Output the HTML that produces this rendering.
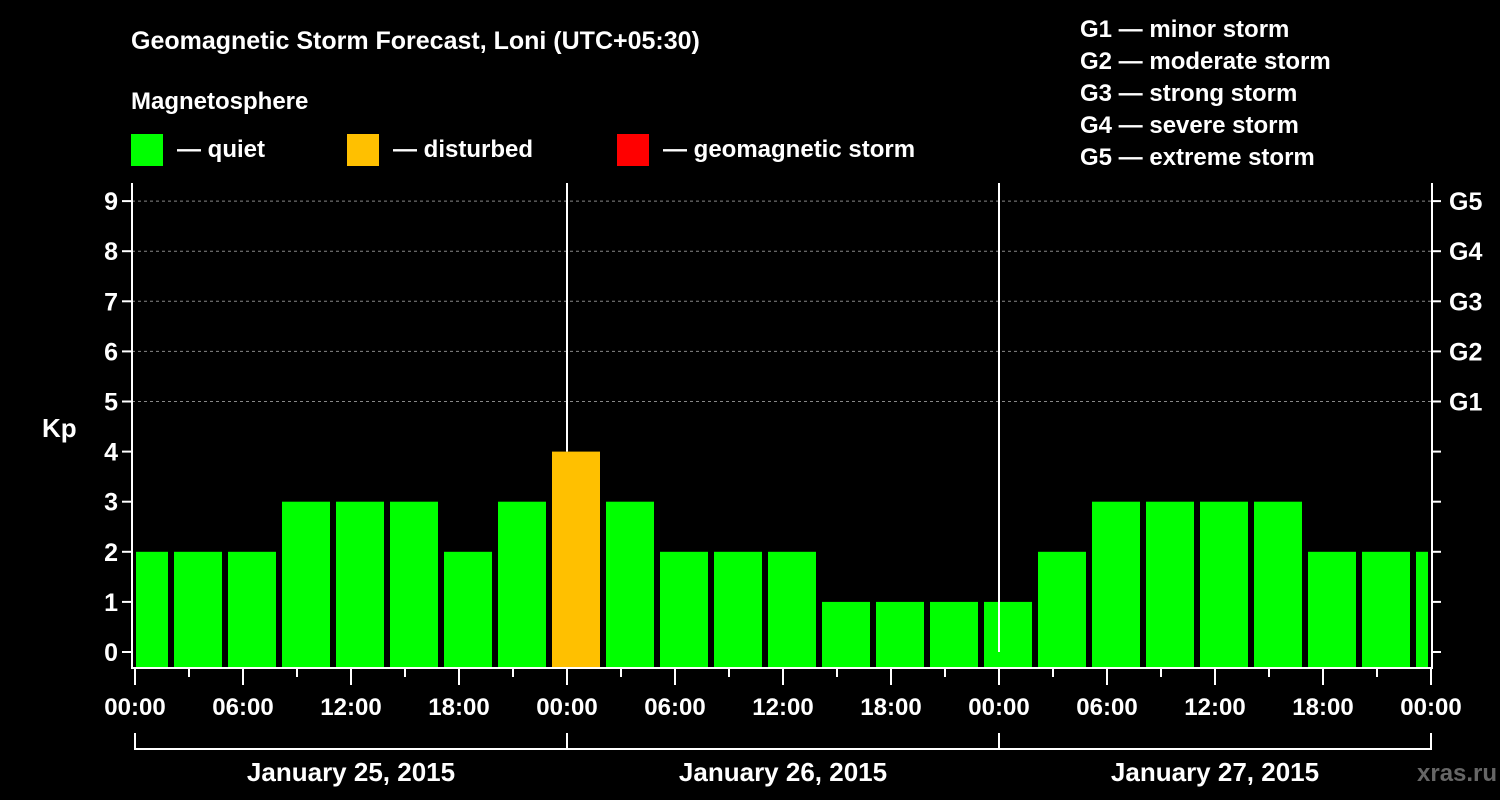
<!DOCTYPE html>
<html><head><meta charset="utf-8"><style>
body{margin:0;background:#000;}
svg{display:block;font-family:"Liberation Sans",Arial,sans-serif;font-weight:bold;}
</style></head><body>
<svg id="chart" width="1500" height="800" viewBox="0 0 1500 800">
<rect width="1500" height="800" fill="#000"/>
<text x="131" y="49" fill="#fff" font-size="25">Geomagnetic Storm Forecast, Loni (UTC+05:30)</text>
<text x="131" y="109" fill="#fff" font-size="24">Magnetosphere</text>
<g><rect x="131" y="134" width="32" height="32" fill="#00ff00"/><text x="177" y="157" fill="#fff" font-size="24">— quiet</text></g>
<g><rect x="347" y="134" width="32" height="32" fill="#ffc000"/><text x="393" y="157" fill="#fff" font-size="24">— disturbed</text></g>
<g><rect x="617" y="134" width="32" height="32" fill="#ff0000"/><text x="663" y="157" fill="#fff" font-size="24">— geomagnetic storm</text></g>
<g fill="#fff" font-size="24">
<text x="1080" y="37">G1 — minor storm</text>
<text x="1080" y="69">G2 — moderate storm</text>
<text x="1080" y="101">G3 — strong storm</text>
<text x="1080" y="133">G4 — severe storm</text>
<text x="1080" y="165">G5 — extreme storm</text>
</g>
<text x="42" y="437" fill="#fff" font-size="26">Kp</text>
<text x="1417" y="781" fill="#666" font-size="24">xras.ru</text>
<g id="grid"></g><g id="bars"></g><g id="axes"></g>
</svg>
<script>
const kpValues=[2,2,2,3,3,3,2,3,4,3,2,2,2,1,1,1,1,2,3,3,3,3,2,2,2];
const kpTicks=[0,1,2,3,4,5,6,7,8,9];
const gLabels=["G1","G2","G3","G4","G5"];
const timeLabels=["00:00","06:00","12:00","18:00","00:00","06:00","12:00","18:00","00:00","06:00","12:00","18:00","00:00"];
const dayLabels=["January 25, 2015","January 26, 2015","January 27, 2015"];
const NS="http://www.w3.org/2000/svg";
const L=132,R=1432,T=183,B=668,X0=135,PXH=18;
const y=k=>652-k*50.1;
const xh=h=>X0+h*PXH;
function mk(p,tag,a){const e=document.createElementNS(NS,tag);for(const k in a)e.setAttribute(k,a[k]);p.appendChild(e);return e;}
const grid=document.getElementById('grid'),bars=document.getElementById('bars'),axes=document.getElementById('axes');
kpTicks.forEach(k=>{if(k>=5){const g=mk(grid,'line',{x1:L,x2:R,y1:y(k),y2:y(k),stroke:'#888','stroke-dasharray':'3,3','stroke-width':1});

}});
const firstStart=-1; // slot starts at hour -1 (local)
kpValues.forEach((v,i)=>{
 let x1=xh(firstStart+3*i)+3, x2=xh(firstStart+3*i+3)-3;
 x1=Math.max(x1,L+4); x2=Math.min(x2,R-4);
 const col=v>=5?'#ff0000':(v>=4?'#ffc000':'#00ff00');
 const r=mk(bars,'rect',{x:x1,y:y(v),width:x2-x1,height:B-y(v),fill:col});
 
 
});
// day separators
[1,2].forEach(d=>{const l=mk(axes,'line',{x1:xh(24*d),x2:xh(24*d),y1:T,y2:y(kpValues[8]>0&&d==1?kpValues[8]:0)-0,stroke:'#fff','stroke-width':2});

});
const fr=mk(axes,'path',{d:`M${L},${T}V${B}H${R}V${T}`,stroke:'#fff','stroke-width':2,fill:'none'});


kpTicks.forEach(k=>{
 mk(axes,'line',{x1:L-10,x2:L,y1:y(k),y2:y(k),stroke:'#fff','stroke-width':2});
 mk(axes,'line',{x1:R,x2:R+9,y1:y(k),y2:y(k),stroke:'#fff','stroke-width':2});
 const t=mk(axes,'text',{x:L-14,y:y(k)+9,fill:'#fff','font-size':25,'text-anchor':'end'});t.textContent=k;
 
 
 if(k>=5){const g=mk(axes,'text',{x:1449,y:y(k)+9,fill:'#fff','font-size':25});g.textContent=gLabels[k-5];
 
 }
});
for(let h=0;h<=72;h+=3){const major=h%6==0;mk(axes,'line',{x1:xh(h),x2:xh(h),y1:B,y2:B+(major?17:9),stroke:'#fff','stroke-width':2});}
timeLabels.forEach((s,i)=>{const t=mk(axes,'text',{x:xh(6*i),y:715,fill:'#fff','font-size':24,'text-anchor':'middle'});t.textContent=s;
 
 });
mk(axes,'path',{d:`M${xh(0)},733V749H${xh(72)}V733`,stroke:'#fff','stroke-width':2,fill:'none'});
[1,2].forEach(d=>mk(axes,'line',{x1:xh(24*d),x2:xh(24*d),y1:733,y2:749,stroke:'#fff','stroke-width':2}));
dayLabels.forEach((s,i)=>{const t=mk(axes,'text',{x:xh(24*i+12),y:781,fill:'#fff','font-size':26,'text-anchor':'middle'});t.textContent=s;
 
 });
</script>
</body></html>
